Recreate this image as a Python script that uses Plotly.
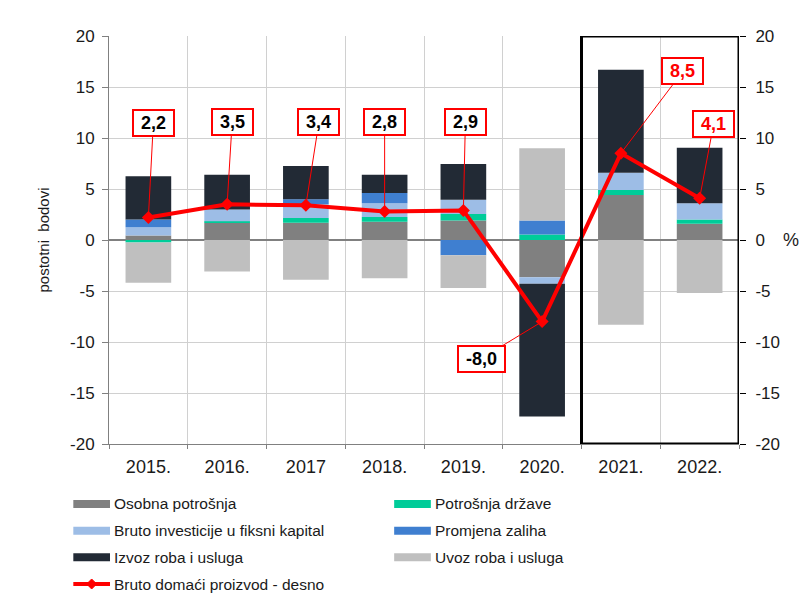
import plotly.graph_objects as go

years = ["2015.", "2016.", "2017", "2018.", "2019.", "2020.", "2021.", "2022."]

osobna = [0.45, 1.7, 1.7, 1.8, 1.9, -3.65, 4.4, 1.6]
drzava = [-0.25, 0.15, 0.45, 0.45, 0.65, 0.55, 0.5, 0.4]
investicije = [0.8, 1.15, 1.35, 1.35, 1.4, -0.65, 1.7, 1.6]
zalihe = [0.75, 0.0, 0.5, 1.0, -1.5, 1.35, 0.0, 0.0]
izvoz = [4.25, 3.4, 3.25, 1.8, 3.5, -13.0, 10.1, 5.45]
uvoz = [-3.95, -3.1, -3.9, -3.75, -3.2, 7.1, -8.3, -5.2]
bdp = [2.2, 3.5, 3.4, 2.8, 2.9, -8.0, 8.5, 4.1]
bdp_labels = ["2,2", "3,5", "3,4", "2,8", "2,9", "-8,0", "8,5", "4,1"]

y_ticks = [-20, -15, -10, -5, 0, 5, 10, 15, 20]
y_ticktext = ["-20", "-15", "-10", "-5", "0", "5", "10", "15", "20"]

series = [
    ("Osobna potrošnja", osobna, "#808080"),
    ("Potrošnja države", drzava, "#00CC99"),
    ("Bruto investicije u fiksni kapital", investicije, "#9DBDE6"),
    ("Promjena zaliha", zalihe, "#3F7FD0"),
    ("Izvoz roba i usluga", izvoz, "#222A35"),
    ("Uvoz roba i usluga", uvoz, "#BFBFBF"),
]
gdp_name = "Bruto domaći proizvod - desno"
red = "#FF0000"
FONT = "Liberation Sans, Arial, sans-serif"

fig = go.Figure()
for name, vals, col in series:
    fig.add_trace(go.Bar(x=years, y=vals, name=name, marker=dict(color=col, line=dict(width=0)),
                         showlegend=False))
fig.add_trace(go.Scatter(x=years, y=bdp, name=gdp_name, yaxis="y2", mode="lines+markers",
                         line=dict(color=red, width=4),
                         marker=dict(symbol="diamond", size=10, color=red),
                         cliponaxis=False, showlegend=False))

# plot area geometry in screen pixels (page body adds an 8px offset)
OFF = 8
SL, ST = 109, 36          # screen position of plot area top-left
PW, PH = 630.3, 408
W, H = 809, 609
L, T = SL - OFF, ST - OFF
R = W - L - PW
B = H - T - PH

def px(x):
    return (x - SL) / PW

def py(y):
    return (ST + PH - y) / PH

# GDP labels (offsets in pixels)
offsets = [(5, -95), (5, -82), (13, -83), (0, -89), (2, -88), (-61, 37), (62, -82), (14, -74)]
annotations = []
for i, (v, lab) in enumerate(zip(bdp, bdp_labels)):
    ax, ay = offsets[i]
    tcol = red if i >= 6 else "#000000"
    annotations.append(dict(
        x=i, y=v, xref="x", yref="y2", text="<b>%s</b>" % lab, showarrow=True,
        ax=ax, ay=ay, arrowhead=0, arrowwidth=1, arrowcolor=red, standoff=0,
        font=dict(family=FONT, size=18, color=tcol), bgcolor="white",
        bordercolor=red, borderwidth=2, borderpad=2,
        width=41 if lab.startswith("-") else 35, align="center"))

# % label on right
annotations.append(dict(x=px(791), y=0, xref="paper", yref="y2", text="%", showarrow=False,
                        font=dict(family=FONT, size=18, color="#1a1a1a"), xanchor="center"))

# custom legend
shapes = []
legend_items = [
    (0, 0, series[0]), (1, 0, series[1]),
    (0, 1, series[2]), (1, 1, series[3]),
    (0, 2, series[4]), (1, 2, series[5]),
]
col_x = [(73.3, 110, 112.5), (394.3, 431, 433)]
row_y = [504, 530.7, 557.3, 584]
for c, r, (name, _, col) in legend_items:
    x0, x1, xt = col_x[c]
    yc = row_y[r]
    shapes.append(dict(type="rect", xref="paper", yref="paper", x0=px(x0), x1=px(x1),
                       y0=py(yc + 4), y1=py(yc - 4), fillcolor=col, line=dict(width=0)))
    annotations.append(dict(x=px(xt), y=py(yc), xref="paper", yref="paper", text=name,
                            showarrow=False, xanchor="left", yanchor="middle",
                            font=dict(family=FONT, size=15.5, color="#1a1a1a")))
x0, x1, xt = col_x[0]
yc = row_y[3]
shapes.append(dict(type="line", xref="paper", yref="paper", x0=px(x0), x1=px(x1),
                   y0=py(yc), y1=py(yc), line=dict(color=red, width=4)))
mx = (x0 + x1) / 2
d = 5
path = "M %f,%f L %f,%f L %f,%f L %f,%f Z" % (
    px(mx), py(yc - d), px(mx + d), py(yc), px(mx), py(yc + d), px(mx - d), py(yc))
shapes.append(dict(type="path", xref="paper", yref="paper", path=path, fillcolor=red,
                   line=dict(color=red, width=1)))
annotations.append(dict(x=px(xt), y=py(yc), xref="paper", yref="paper", text=gdp_name,
                        showarrow=False, xanchor="left", yanchor="middle",
                        font=dict(family=FONT, size=15.5, color="#1a1a1a")))

# highlight frame around forecast years
shapes.append(dict(type="rect", xref="x", yref="y", x0=5.5, x1=7.5, y0=-20, y1=20,
                   line=dict(color="black", width=3), fillcolor="rgba(0,0,0,0)", layer="above"))

fig.update_layout(
    width=W, height=H,
    margin=dict(l=L, r=R, t=T, b=B, autoexpand=False),
    paper_bgcolor="white", plot_bgcolor="white",
    barmode="relative", bargap=0.42,
    font=dict(family=FONT, color="#1a1a1a"),
    showlegend=False,
    xaxis=dict(type="category", tickson="boundaries", showgrid=True, gridcolor="#D0D0D0",
               showline=True, linecolor="#808080", ticks="outside", ticklen=4,
               tickcolor="#808080", tickfont=dict(size=18, family=FONT, color="#1a1a1a"),
               ticklabelstandoff=6, range=[-0.5, 7.5]),
    yaxis=dict(range=[-20, 20], tickvals=y_ticks, ticktext=y_ticktext, showgrid=True,
               gridcolor="#D0D0D0", zeroline=True, zerolinecolor="#808080", zerolinewidth=1.5,
               showline=True, linecolor="#808080", ticks="outside", ticklen=6,
               tickcolor="#808080", tickfont=dict(size=17, family=FONT, color="#1a1a1a"),
               ticklabelstandoff=4,
               title=dict(text="postotni  bodovi", standoff=16,
                          font=dict(size=15, family=FONT, color="#1a1a1a"))),
    yaxis2=dict(range=[-20, 20], tickvals=y_ticks, ticktext=y_ticktext, overlaying="y",
                side="right", showgrid=False, zeroline=False, showline=False,
                ticks="outside", ticklen=6, tickcolor="#000000", ticklabelstandoff=6,
                tickfont=dict(size=17, family=FONT, color="#1a1a1a")),
    annotations=annotations,
    shapes=shapes,
)

fig.write_html("out.html")
